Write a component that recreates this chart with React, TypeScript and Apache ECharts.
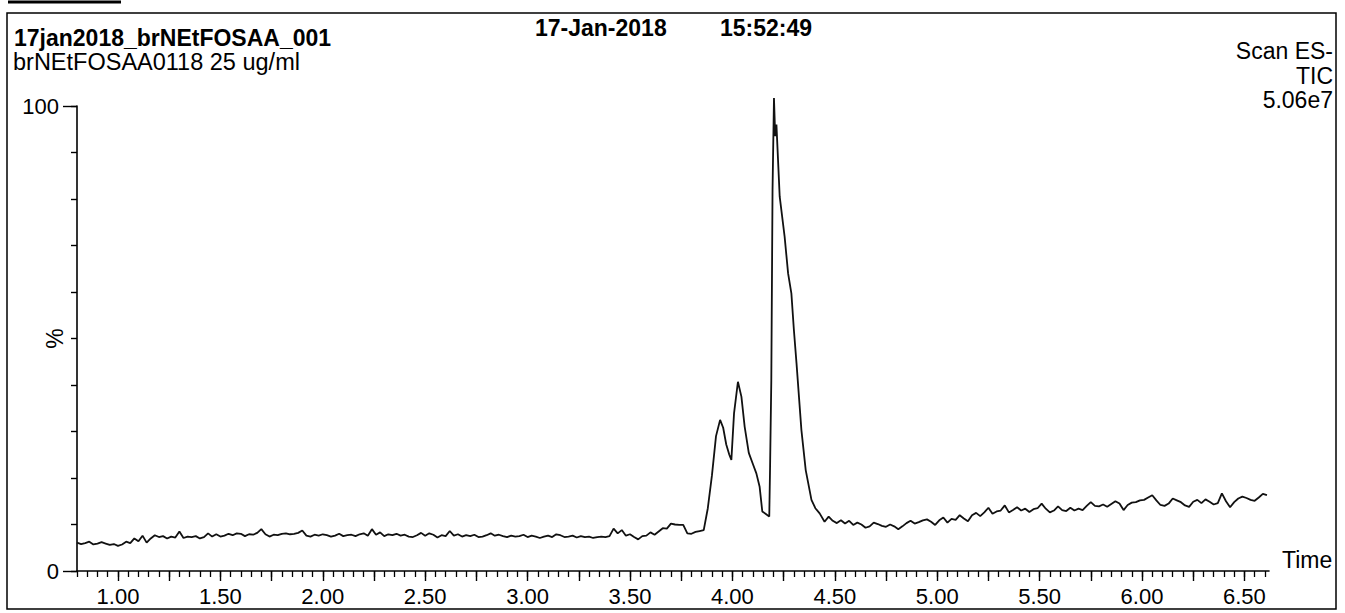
import React, { useEffect, useRef } from "react";
import * as echarts from "echarts";

const runTitle = "17jan2018_brNEtFOSAA_001";
const sampleDesc = "brNEtFOSAA0118 25 ug/ml";
const runDate = "17-Jan-2018";
const runClock = "15:52:49";
const scanInfo = ["Scan ES-", "TIC", "5.06e7"];

const xLabelTicks = [1.0, 1.5, 2.0, 2.5, 3.0, 3.5, 4.0, 4.5, 5.0, 5.5, 6.0, 6.5];
const yLabelTicks = [0, 100];
const yMinorTicks = [0, 10, 20, 30, 40, 50, 60, 70, 80, 90, 100];

// [retention time (min), relative intensity (%)]
const preRegion: [number, number][] = [
  [0.80, 6.1], [0.82, 5.8], [0.84, 6.0], [0.86, 6.3], [0.88, 5.7], [0.90, 5.9], [0.92, 6.2], [0.94, 5.9],
  [0.96, 5.6], [0.98, 5.8], [1.00, 5.4], [1.02, 5.7], [1.04, 6.3], [1.06, 6.0], [1.08, 7.0], [1.10, 6.4],
  [1.12, 7.6], [1.14, 6.1], [1.16, 7.0], [1.18, 7.7], [1.20, 7.3], [1.22, 7.5], [1.24, 7.0], [1.26, 7.4],
  [1.28, 7.2], [1.30, 8.5], [1.32, 7.1], [1.34, 7.4], [1.36, 7.3], [1.38, 7.5], [1.40, 7.0], [1.42, 7.3],
  [1.44, 8.1], [1.46, 7.4], [1.48, 7.9], [1.50, 7.4], [1.52, 7.6], [1.54, 8.0], [1.56, 7.7], [1.58, 8.1],
  [1.60, 8.0], [1.62, 7.5], [1.64, 7.9], [1.66, 7.8], [1.68, 8.2], [1.70, 9.0], [1.72, 7.9], [1.74, 7.4],
  [1.76, 7.8], [1.78, 7.7], [1.80, 8.0], [1.82, 8.1], [1.84, 7.9], [1.86, 8.0], [1.88, 8.2], [1.90, 8.7],
  [1.92, 7.6], [1.94, 7.4], [1.96, 7.8], [1.98, 7.6], [2.00, 7.9], [2.02, 7.7], [2.04, 7.4], [2.06, 7.6],
  [2.08, 8.0], [2.10, 7.5], [2.12, 7.7], [2.14, 7.8], [2.16, 7.5], [2.18, 7.9], [2.20, 8.1], [2.22, 7.6],
  [2.24, 9.0], [2.26, 7.8], [2.28, 8.3], [2.30, 7.5], [2.32, 7.9], [2.34, 7.7], [2.36, 8.0], [2.38, 7.6],
  [2.40, 7.8], [2.42, 7.4], [2.44, 7.3], [2.46, 7.7], [2.48, 8.2], [2.50, 7.6], [2.52, 8.1], [2.54, 7.8],
  [2.56, 7.2], [2.58, 7.7], [2.60, 7.5], [2.62, 8.6], [2.64, 7.6], [2.66, 7.9], [2.68, 7.4], [2.70, 7.7],
  [2.72, 7.5], [2.74, 7.8], [2.76, 7.3], [2.78, 7.4], [2.80, 7.7], [2.82, 8.1], [2.84, 7.6], [2.86, 7.8],
  [2.88, 7.5], [2.90, 7.3], [2.92, 7.6], [2.94, 7.4], [2.96, 7.5], [2.98, 7.8], [3.00, 7.3], [3.02, 7.6],
  [3.04, 7.4], [3.06, 7.1], [3.08, 7.4], [3.10, 7.6], [3.12, 7.3], [3.14, 7.9], [3.16, 7.7], [3.18, 7.3],
  [3.20, 7.4], [3.22, 7.6], [3.24, 7.2], [3.26, 7.5], [3.28, 7.3], [3.30, 7.4], [3.32, 7.1], [3.34, 7.3],
  [3.36, 7.4], [3.38, 7.3], [3.40, 7.5], [3.42, 9.1], [3.44, 8.1], [3.46, 8.8], [3.48, 7.6], [3.50, 7.9],
  [3.52, 7.3], [3.54, 6.8], [3.56, 7.5], [3.58, 7.6], [3.60, 8.3], [3.62, 7.8], [3.64, 8.5], [3.66, 9.2],
  [3.68, 9.1], [3.70, 10.2], [3.72, 10.0], [3.74, 9.9], [3.76, 9.9], [3.78, 8.1], [3.80, 8.0], [3.82, 8.4],
  [3.84, 8.6], [3.86, 8.8],
];

const peakRegion: [number, number][] = [
  [3.88, 13.5], [3.90, 20.5], [3.92, 29.0], [3.94, 32.5], [3.955, 30.8], [3.97, 27.2], [3.985, 25.0],
  [3.995, 23.9], [4.008, 33.9], [4.027, 40.7], [4.044, 37.5], [4.06, 31.0], [4.08, 25.4], [4.10, 23.0],
  [4.117, 21.0], [4.133, 18.1], [4.146, 12.8], [4.165, 12.2], [4.18, 11.7], [4.184, 22.4], [4.19, 41.0],
  [4.196, 82.0], [4.203, 101.7], [4.209, 93.5], [4.215, 96.0], [4.231, 80.5], [4.255, 71.9], [4.272, 64.0],
  [4.288, 59.7], [4.30, 52.0], [4.313, 44.7], [4.337, 30.3], [4.358, 21.7], [4.386, 15.3], [4.405, 13.5],
  [4.426, 12.4], [4.45, 10.6],
];

const postRegion: [number, number][] = [
  [4.47, 11.7], [4.49, 10.8], [4.51, 10.3], [4.53, 10.9], [4.55, 10.2], [4.57, 10.8], [4.59, 9.9], [4.61, 10.4],
  [4.63, 10.0], [4.65, 9.3], [4.67, 9.6], [4.69, 10.4], [4.71, 10.1], [4.73, 9.7], [4.75, 9.5], [4.77, 10.0],
  [4.79, 9.6], [4.81, 9.0], [4.83, 9.6], [4.85, 10.3], [4.87, 10.8], [4.89, 10.2], [4.91, 10.5], [4.93, 10.9],
  [4.95, 11.1], [4.97, 10.6], [4.99, 9.9], [5.01, 10.9], [5.03, 11.5], [5.05, 10.4], [5.07, 11.2], [5.09, 11.0],
  [5.11, 12.0], [5.13, 11.3], [5.15, 10.7], [5.17, 12.0], [5.19, 12.5], [5.21, 11.8], [5.23, 12.6], [5.25, 13.6],
  [5.27, 12.3], [5.29, 12.8], [5.31, 13.0], [5.33, 14.1], [5.35, 12.6], [5.37, 13.1], [5.39, 13.7], [5.41, 13.0],
  [5.43, 13.4], [5.45, 12.7], [5.47, 13.3], [5.49, 13.5], [5.51, 14.5], [5.53, 13.4], [5.55, 12.6], [5.57, 13.0],
  [5.59, 13.9], [5.61, 13.1], [5.63, 12.9], [5.65, 13.6], [5.67, 13.0], [5.69, 13.4], [5.71, 13.1], [5.73, 14.0],
  [5.75, 14.8], [5.77, 14.0], [5.79, 13.9], [5.81, 14.3], [5.83, 13.8], [5.85, 14.4], [5.87, 15.0], [5.89, 14.5],
  [5.91, 13.1], [5.93, 14.2], [5.95, 14.7], [5.97, 14.8], [5.99, 15.2], [6.01, 15.3], [6.03, 15.8], [6.05, 16.3],
  [6.07, 15.2], [6.09, 14.2], [6.11, 14.0], [6.13, 14.5], [6.15, 15.6], [6.17, 15.2], [6.19, 14.8], [6.21, 14.1],
  [6.23, 13.8], [6.25, 14.9], [6.27, 15.3], [6.29, 14.6], [6.31, 15.4], [6.33, 14.9], [6.35, 14.3], [6.37, 14.6],
  [6.39, 16.7], [6.41, 15.0], [6.43, 13.7], [6.45, 14.8], [6.47, 15.6], [6.49, 16.0], [6.51, 15.7], [6.53, 15.3],
  [6.55, 15.1], [6.57, 15.8], [6.59, 16.6], [6.61, 16.3],
];

const X_MIN = 0.8;
const X_MAX = 6.62;

function stepTicks(from: number, to: number, step: number): number[] {
  const out: number[] = [];
  const n = Math.round((to - from) / step);
  for (let i = 0; i <= n; i++) out.push(Math.round((from + i * step) * 1000) / 1000);
  return out;
}

const FONT = '"Liberation Sans", Arial, sans-serif';

export default function App() {
  const ref = useRef<HTMLDivElement>(null);

  useEffect(() => {
    if (!ref.current) return;
    const chart = echarts.init(ref.current, undefined, { renderer: "svg" });
    const quarterTicks = stepTicks(1.0, 6.5, 0.25);
    const minorTicks = stepTicks(0.8, 6.6, 0.05);
    const trace = [...preRegion, ...peakRegion, ...postRegion];

    const black = "#000";
    chart.setOption({
      animation: false,
      backgroundColor: "#fff",
      grid: { left: 77, top: 106, width: 1192, height: 465, containLabel: false, outerBoundsMode: "none" },
      xAxis: [
        {
          type: "value",
          min: X_MIN,
          max: X_MAX,
          position: "bottom",
          axisLine: { show: true, onZero: false, lineStyle: { color: black, width: 1.6 } },
          axisTick: { show: true, customValues: quarterTicks, length: 10, inside: false, lineStyle: { color: black, width: 1.4 } },
          axisLabel: {
            show: true,
            customValues: xLabelTicks,
            formatter: (v: number) => v.toFixed(2),
            color: black,
            fontSize: 22,
            fontFamily: FONT,
            margin: 14,
          },
          splitLine: { show: false },
          name: "Time",
          nameLocation: "end",
          nameGap: 13,
          nameMoveOverlap: false,
          nameTextStyle: { color: black, fontSize: 23, fontFamily: FONT, verticalAlign: "bottom", align: "left" },
        },
        {
          type: "value",
          min: X_MIN,
          max: X_MAX,
          position: "bottom",
          axisLine: { show: false, onZero: false },
          axisTick: { show: true, customValues: minorTicks, length: 6, lineStyle: { color: black, width: 1.3 } },
          axisLabel: { show: false },
          splitLine: { show: false },
        },
      ],
      yAxis: [
        {
          type: "value",
          min: 0,
          max: 100,
          position: "left",
          axisLine: { show: true, onZero: false, lineStyle: { color: black, width: 1.6 } },
          axisTick: { show: true, customValues: yMinorTicks, length: 6, lineStyle: { color: black, width: 1.4 } },
          axisLabel: {
            show: true,
            customValues: yLabelTicks,
            color: black,
            fontSize: 22,
            fontFamily: FONT,
            margin: 18,
          },
          splitLine: { show: false },
          name: "%",
          nameLocation: "middle",
          nameGap: 11,
          nameRotate: 90,
          nameMoveOverlap: false,
          nameTextStyle: { color: black, fontSize: 23, fontFamily: FONT },
        },
        {
          type: "value",
          min: 0,
          max: 100,
          position: "left",
          axisLine: { show: false, onZero: false },
          axisTick: { show: true, customValues: yLabelTicks, length: 14, lineStyle: { color: black, width: 1.4 } },
          axisLabel: { show: false },
          splitLine: { show: false },
        },
      ],
      series: [
        {
          type: "line",
          name: "TIC",
          xAxisIndex: 0,
          yAxisIndex: 0,
          data: trace,
          showSymbol: false,
          symbol: "none",
          clip: false,
          silent: true,
          lineStyle: { color: "#111", width: 1.8 },
        },
      ],
      graphic: [
        {
          type: "rect",
          shape: { x: 7, y: 13, width: 1329, height: 596 },
          style: { fill: "none", stroke: black, lineWidth: 1.5 },
          silent: true,
        },
        {
          type: "line",
          shape: { x1: 8, y1: 2, x2: 121, y2: 2 },
          style: { stroke: black, lineWidth: 3 },
          silent: true,
        },
        {
          type: "text",
          x: 14,
          y: 38,
          style: { text: runTitle, font: `bold 23px ${FONT}`, fill: black, textAlign: "left", textVerticalAlign: "middle" },
        },
        {
          type: "text",
          x: 13,
          y: 62,
          style: { text: sampleDesc, font: `23.5px ${FONT}`, fill: black, textAlign: "left", textVerticalAlign: "middle" },
        },
        {
          type: "text",
          x: 535,
          y: 28,
          style: { text: runDate, font: `bold 23px ${FONT}`, fill: black, textAlign: "left", textVerticalAlign: "middle" },
        },
        {
          type: "text",
          x: 720,
          y: 28,
          style: { text: runClock, font: `bold 23px ${FONT}`, fill: black, textAlign: "left", textVerticalAlign: "middle" },
        },
        ...scanInfo.map((t, i) => ({
          type: "text",
          x: 1333,
          y: [51, 76, 100][i],
          style: { text: t, font: `23px ${FONT}`, fill: black, textAlign: "right", textVerticalAlign: "middle" },
        })),
      ],
    });
    return () => chart.dispose();
  }, []);

  return (
    <div
      ref={ref}
      style={{ position: "fixed", left: 0, top: 0, width: 1345, height: 613, background: "#fff" }}
    />
  );
}
